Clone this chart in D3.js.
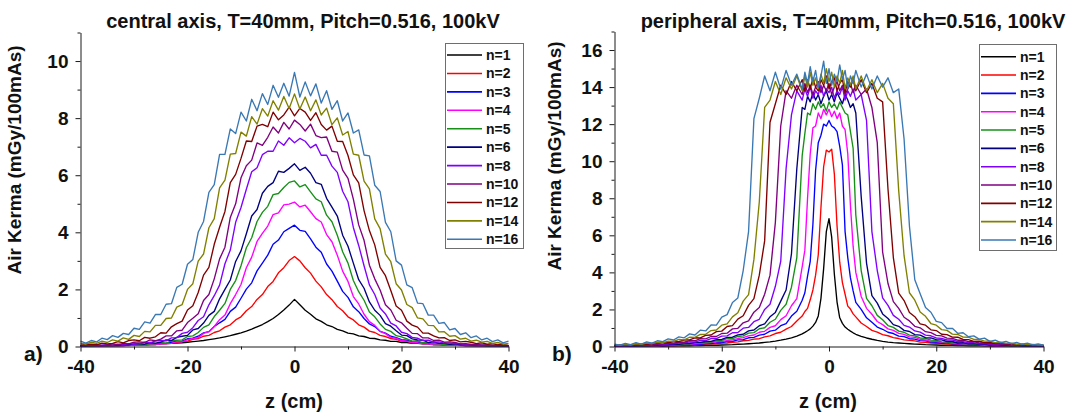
<!DOCTYPE html>
<html>
<head>
<meta charset="utf-8">
<script src="https://cdn.jsdelivr.net/npm/d3@7"></script>
<style>
  body { margin: 0; background: #fff; }
  svg { display: block; font-family: "Liberation Sans", Arial, sans-serif; }
</style>
</head>
<body>
<svg id="chart" width="1081" height="416"></svg>
<script>
// ---- legend entries and line colours ----
const seriesLabels = ["n=1", "n=2", "n=3", "n=4", "n=5", "n=6", "n=8", "n=10", "n=12", "n=14", "n=16"];
const seriesColors = ["#000000", "#ff0000", "#0000ff", "#ff00ff", "#169016", "#000080",
                      "#8000ff", "#800080", "#800000", "#808000", "#3a78b4"];

// ---- axis ticks ----
const zTicks = [-40, -20, 0, 20, 40];
const zMinorTicks = [-30, -10, 10, 30];
const centralYTicks = [0, 2, 4, 6, 8, 10];
const centralYMinor = [1, 3, 5, 7, 9, 11];
const peripheralYTicks = [0, 2, 4, 6, 8, 10, 12, 14, 16];
const peripheralYMinor = [1, 3, 5, 7, 9, 11, 13, 15, 17];

// ---- central axis: z positions (cm) ----
const zCentral = [-40,-39,-38,-37,-36,-35,-34,-33,-32,-31,-30,-29,-28,-27,-26,-25,-24,-23,-22,-21,
  -20,-19,-18,-17,-16,-15,-14,-13,-12,-11,-10,-9,-8,-7,-6,-5,-4,-3,-2,-1,0,
  1,2,3,4,5,6,7,8,9,10,11,12,13,14,15,16,17,18,19,20,21,22,23,24,25,26,27,28,29,30,
  31,32,33,34,35,36,37,38,39,40];

// ---- central axis: air kerma (mGy/100mAs) ----
const central_n1 = [0.015,0.02,0.02,0.02,0.025,0.03,0.03,0.035,0.04,0.045,0.05,0.055,0.06,0.07,0.08,0.09,0.10,0.11,0.12,0.13,0.15,0.17,0.19,0.21,0.24,0.27,0.30,0.34,0.38,0.43,0.48,0.54,0.61,0.69,0.77,0.87,0.98,1.12,1.28,1.45,
  1.65,
  1.46,1.27,1.13,0.97,0.88,0.76,0.70,0.60,0.55,0.47,0.44,0.37,0.35,0.29,0.28,0.23,0.22,0.18,0.18,0.14,0.14,0.11,0.11,0.09,0.09,0.07,0.07,0.05,0.06,0.04,0.05,0.03,0.04,0.03,0.03,0.02,0.03,0.02,0.02,0.01];
const central_n2 = [0.01,0.02,0.01,0.02,0.03,0.02,0.03,0.04,0.03,0.05,0.04,0.06,0.05,0.08,0.07,0.10,0.10,0.14,0.14,0.18,0.19,0.25,0.28,0.36,0.39,0.49,0.55,0.68,0.76,0.93,1.04,1.25,1.40,1.65,1.82,2.10,2.28,2.58,2.76,3.01,
  3.15,
  3.00,2.76,2.57,2.29,2.09,1.82,1.64,1.40,1.25,1.04,0.93,0.76,0.68,0.54,0.49,0.39,0.35,0.28,0.25,0.19,0.18,0.14,0.14,0.10,0.10,0.07,0.08,0.05,0.06,0.04,0.05,0.03,0.04,0.02,0.03,0.02,0.02,0.01,0.02,0.01];
const central_n3 = [0.01,0.02,0.01,0.02,0.03,0.02,0.02,0.04,0.03,0.05,0.04,0.06,0.06,0.08,0.08,0.11,0.11,0.15,0.18,0.19,0.27,0.29,0.36,0.48,0.52,0.70,0.83,0.95,1.23,1.38,1.69,2.01,2.23,2.65,2.92,3.20,3.58,3.73,4.02,4.14,
  4.25,
  4.07,4.03,3.77,3.48,3.30,2.89,2.64,2.29,1.93,1.72,1.39,1.22,0.98,0.79,0.70,0.53,0.47,0.36,0.31,0.24,0.22,0.16,0.15,0.11,0.11,0.08,0.07,0.07,0.05,0.04,0.04,0.03,0.03,0.02,0.03,0.02,0.01,0.02,0.01,0.01];
const central_n4 = [0.02,0.02,0.01,0.03,0.01,0.03,0.02,0.03,0.04,0.03,0.05,0.06,0.04,0.07,0.06,0.09,0.09,0.11,0.17,0.16,0.24,0.28,0.31,0.46,0.52,0.70,0.94,1.10,1.50,1.82,2.17,2.76,3.13,3.68,3.96,4.22,4.62,4.68,4.96,4.99,
  5.06,
  4.89,4.95,4.72,4.48,4.36,3.92,3.67,3.20,2.64,2.28,1.75,1.49,1.13,0.87,0.74,0.53,0.45,0.32,0.29,0.21,0.19,0.14,0.13,0.09,0.09,0.06,0.07,0.05,0.04,0.05,0.03,0.03,0.04,0.02,0.02,0.03,0.01,0.02,0.01,0.01];
const central_n5 = [0.02,0.03,0.01,0.03,0.03,0.02,0.04,0.03,0.05,0.04,0.06,0.07,0.06,0.09,0.09,0.14,0.12,0.20,0.22,0.23,0.35,0.37,0.49,0.67,0.76,1.05,1.27,1.51,2.00,2.31,2.83,3.46,3.81,4.38,4.70,4.91,5.32,5.36,5.57,5.75,
  5.80,
  5.59,5.67,5.42,5.17,5.07,4.60,4.37,3.90,3.32,2.92,2.31,1.92,1.62,1.21,1.04,0.79,0.60,0.53,0.38,0.34,0.27,0.19,0.20,0.13,0.13,0.09,0.09,0.07,0.05,0.06,0.04,0.04,0.03,0.04,0.03,0.02,0.03,0.02,0.01,0.02];
const central_n6 = [0.03,0.02,0.04,0.04,0.03,0.05,0.04,0.04,0.07,0.06,0.09,0.10,0.08,0.14,0.12,0.15,0.23,0.21,0.32,0.36,0.39,0.58,0.63,0.82,1.09,1.23,1.67,2.00,2.33,2.98,3.35,3.95,4.57,4.80,5.37,5.61,5.74,6.14,6.10,6.24,
  6.40,
  6.17,6.28,6.07,5.74,5.68,5.19,4.88,4.57,3.90,3.51,2.92,2.34,2.04,1.56,1.27,1.09,0.80,0.71,0.55,0.40,0.38,0.27,0.23,0.22,0.14,0.16,0.11,0.11,0.08,0.09,0.06,0.07,0.05,0.04,0.05,0.03,0.04,0.03,0.02,0.03];
const central_n8 = [0.02,0.04,0.03,0.03,0.05,0.06,0.04,0.08,0.06,0.10,0.08,0.10,0.15,0.13,0.20,0.21,0.20,0.30,0.31,0.46,0.50,0.66,0.91,1.04,1.46,1.78,2.15,2.90,3.38,4.35,4.87,5.51,6.12,6.26,6.72,6.84,6.84,7.20,7.05,7.31,
  7.14,
  7.29,7.19,6.96,7.08,6.70,6.70,6.32,6.10,5.44,5.07,4.17,3.54,2.83,2.16,1.82,1.35,1.14,0.82,0.72,0.50,0.45,0.32,0.29,0.21,0.22,0.15,0.16,0.12,0.12,0.09,0.09,0.06,0.07,0.05,0.04,0.05,0.03,0.03,0.04,0.02];
const central_n10 = [0.04,0.05,0.03,0.06,0.04,0.05,0.09,0.06,0.11,0.09,0.15,0.16,0.14,0.23,0.20,0.26,0.37,0.37,0.55,0.57,0.84,0.99,1.15,1.61,1.82,2.37,3.07,3.48,4.52,5.00,5.91,6.33,6.53,7.13,7.05,7.33,7.69,7.48,7.85,7.62,
  7.93,
  7.78,7.55,7.79,7.39,7.32,7.34,6.84,6.81,6.18,5.89,5.16,4.26,3.72,2.85,2.37,1.98,1.46,1.28,0.92,0.83,0.64,0.46,0.45,0.30,0.30,0.21,0.22,0.15,0.16,0.14,0.09,0.10,0.07,0.08,0.05,0.06,0.04,0.05,0.03,0.03];
const central_n12 = [0.04,0.08,0.08,0.06,0.12,0.09,0.11,0.17,0.13,0.21,0.23,0.20,0.32,0.29,0.34,0.48,0.47,0.69,0.80,0.89,1.28,1.43,1.89,2.50,2.77,3.58,4.18,4.73,5.74,6.03,6.59,7.20,7.18,7.72,7.78,7.70,8.21,7.94,8.11,8.39,
  8.08,
  8.34,8.21,7.92,8.19,7.78,7.58,7.72,7.19,7.18,6.69,6.01,5.73,4.76,4.06,3.56,2.77,2.48,1.96,1.42,1.27,0.89,0.75,0.68,0.47,0.47,0.37,0.30,0.31,0.21,0.23,0.16,0.18,0.15,0.10,0.13,0.08,0.10,0.06,0.07,0.04];
const central_n14 = [0.12,0.08,0.15,0.11,0.19,0.14,0.23,0.19,0.30,0.25,0.39,0.35,0.53,0.51,0.74,0.74,0.98,1.00,1.38,1.47,2.00,2.20,2.99,3.24,4.16,4.48,5.56,5.83,6.74,6.76,7.51,7.37,8.05,7.79,8.33,8.07,8.61,8.28,8.76,8.34,
  8.85,
  8.32,8.74,8.26,8.64,8.11,8.35,7.77,8.01,7.41,7.53,6.74,6.70,5.79,5.52,4.47,4.13,3.24,2.97,2.20,1.98,1.47,1.36,1.00,0.97,0.74,0.73,0.51,0.52,0.36,0.38,0.26,0.29,0.19,0.22,0.15,0.18,0.11,0.14,0.08,0.11];
const central_n16 = [0.19,0.12,0.21,0.16,0.29,0.24,0.38,0.32,0.46,0.42,0.64,0.60,0.86,0.82,1.12,1.12,1.48,1.50,2.07,2.18,2.88,3.05,4.00,4.38,5.40,5.67,6.73,6.73,7.62,7.46,8.21,7.90,8.66,8.26,8.86,8.48,9.15,8.73,9.22,8.77,
  9.60,
  8.74,9.27,8.78,9.20,8.53,8.96,8.31,8.61,7.90,8.18,7.48,7.59,6.71,6.68,5.65,5.43,4.35,4.02,3.00,2.85,2.16,2.06,1.52,1.50,1.10,1.10,0.81,0.84,0.58,0.63,0.42,0.48,0.31,0.37,0.23,0.29,0.17,0.23,0.13,0.19];

// ---- peripheral axis: z positions (cm), finer near the centre ----
const zPeripheral = [-40,-39,-38,-37,-36,-35,-34,-33,-32,-31,-30,-29,-28,-27,-26,-25,-24,-23,-22,-21,
  -20,-19,-18,-17,-16,-15,-14,-13,-12,-11,-10,-9,-8,-7,-6,-5,
  -4.5,-4,-3.5,-3,-2.5,-2,-1.5,-1,-0.5,0,0.5,1,1.5,2,2.5,3,3.5,4,4.5,
  5,6,7,8,9,10,11,12,13,14,15,16,17,18,19,20,21,22,23,24,25,26,27,28,29,30,
  31,32,33,34,35,36,37,38,39,40];

// ---- peripheral axis: air kerma (mGy/100mAs) ----
const peripheral_n1 = [0.01,0.01,0.01,0.01,0.01,0.015,0.015,0.02,0.02,0.02,0.03,0.03,0.03,0.04,0.04,0.05,0.05,0.06,0.07,0.07,0.08,0.09,0.10,0.12,0.13,0.15,0.17,0.19,0.22,0.25,0.29,0.34,0.40,0.47,0.56,0.68,
  0.76,0.85,0.95,1.10,1.30,1.65,2.60,4.20,6.20,6.90,5.90,3.90,2.40,1.55,1.25,1.05,0.93,0.83,0.74,
  0.66,0.55,0.46,0.39,0.33,0.28,0.24,0.21,0.19,0.17,0.15,0.13,0.12,0.10,0.09,0.08,0.07,0.07,0.06,0.05,0.05,0.04,0.04,0.03,0.03,0.03,0.02,0.02,0.02,0.015,0.015,0.01,0.01,0.01,0.01,0.01];
const peripheral_n2 = [0.01,0.01,0.02,0.01,0.02,0.02,0.02,0.03,0.02,0.03,0.04,0.03,0.05,0.05,0.08,0.08,0.10,0.12,0.14,0.15,0.18,0.19,0.23,0.25,0.31,0.33,0.40,0.42,0.52,0.57,0.70,0.77,0.94,1.08,1.38,1.64,
  1.89,2.06,2.52,3.05,3.85,4.95,7.50,9.70,10.60,10.50,10.65,9.30,6.50,4.55,3.45,2.82,2.18,2.02,1.76,
  1.60,1.27,1.08,0.87,0.78,0.64,0.58,0.48,0.43,0.36,0.33,0.30,0.24,0.22,0.19,0.17,0.16,0.13,0.12,0.11,0.09,0.08,0.07,0.06,0.05,0.04,0.04,0.03,0.03,0.03,0.02,0.02,0.02,0.01,0.01,0.01];
const peripheral_n3 = [0.01,0.02,0.01,0.02,0.02,0.03,0.02,0.03,0.03,0.04,0.05,0.05,0.06,0.09,0.09,0.12,0.12,0.16,0.16,0.20,0.21,0.27,0.28,0.36,0.37,0.47,0.49,0.61,0.66,0.83,0.88,1.12,1.24,1.64,1.90,2.50,
  2.90,3.80,4.60,6.60,9.50,11.00,11.40,12.00,11.90,12.20,11.90,11.80,11.60,10.80,9.80,6.20,4.80,3.70,3.00,
  2.38,2.00,1.55,1.31,1.05,0.93,0.77,0.70,0.56,0.53,0.42,0.40,0.32,0.30,0.24,0.23,0.18,0.18,0.14,0.14,0.10,0.11,0.07,0.08,0.05,0.05,0.04,0.04,0.03,0.03,0.02,0.03,0.02,0.02,0.01,0.01];
const peripheral_n4 = [0.02,0.03,0.02,0.03,0.03,0.04,0.03,0.05,0.04,0.06,0.06,0.09,0.09,0.12,0.12,0.15,0.16,0.19,0.21,0.25,0.27,0.32,0.36,0.43,0.48,0.57,0.62,0.77,0.82,1.03,1.12,1.45,1.66,2.20,2.58,4.30,
  5.20,8.00,10.40,11.80,11.90,12.60,12.30,12.80,12.50,12.80,12.40,12.70,12.30,12.60,11.90,11.70,10.40,7.60,5.40,
  4.00,2.70,2.06,1.74,1.35,1.18,0.95,0.87,0.71,0.65,0.52,0.49,0.38,0.36,0.28,0.27,0.22,0.21,0.17,0.16,0.13,0.13,0.10,0.10,0.07,0.07,0.04,0.05,0.03,0.04,0.02,0.03,0.02,0.02,0.01,0.02];
const peripheral_n5 = [0.02,0.03,0.02,0.04,0.03,0.05,0.04,0.06,0.05,0.07,0.07,0.11,0.10,0.13,0.13,0.19,0.19,0.24,0.24,0.31,0.33,0.42,0.42,0.54,0.57,0.72,0.75,0.96,1.01,1.31,1.47,1.95,2.28,3.20,4.80,10.30,
  11.50,12.60,12.50,13.10,12.80,13.20,12.90,13.10,12.70,13.20,12.90,13.10,12.80,13.20,12.90,12.60,12.50,11.60,10.70,
  7.10,4.10,2.60,2.20,1.68,1.44,1.13,1.03,0.83,0.77,0.61,0.57,0.46,0.44,0.34,0.33,0.25,0.24,0.20,0.19,0.15,0.15,0.12,0.12,0.09,0.09,0.06,0.06,0.04,0.05,0.03,0.04,0.03,0.03,0.02,0.02];
const peripheral_n6 = [0.03,0.04,0.03,0.05,0.04,0.06,0.05,0.07,0.07,0.09,0.09,0.12,0.12,0.16,0.16,0.22,0.22,0.27,0.28,0.37,0.38,0.49,0.50,0.63,0.66,0.84,0.89,1.12,1.22,1.60,1.84,2.45,3.05,5.00,9.60,12.90,
  12.80,13.50,13.20,13.70,13.30,13.60,13.10,13.50,13.80,13.30,13.60,13.20,13.70,13.40,13.10,13.60,13.30,12.90,13.10,
  12.60,8.10,4.50,2.74,2.34,1.76,1.51,1.18,1.09,0.87,0.81,0.64,0.61,0.48,0.46,0.37,0.36,0.27,0.27,0.19,0.21,0.15,0.16,0.12,0.12,0.08,0.10,0.07,0.08,0.05,0.06,0.04,0.05,0.03,0.04,0.02];
const peripheral_n8 = [0.04,0.03,0.05,0.04,0.06,0.05,0.09,0.07,0.11,0.10,0.15,0.14,0.19,0.18,0.25,0.24,0.33,0.32,0.43,0.43,0.56,0.57,0.74,0.75,0.99,1.03,1.34,1.47,2.00,2.28,3.25,4.60,9.60,12.50,13.80,13.30,
  13.90,13.50,14.00,13.40,13.80,13.60,14.10,13.50,13.90,13.70,14.00,13.40,13.80,13.60,14.00,13.30,13.80,13.50,13.90,
  13.30,13.60,12.20,6.20,4.10,2.62,2.22,1.68,1.47,1.14,1.05,0.84,0.78,0.61,0.58,0.46,0.44,0.35,0.35,0.27,0.26,0.20,0.20,0.15,0.16,0.12,0.13,0.10,0.11,0.07,0.09,0.06,0.07,0.05,0.06,0.04];
const peripheral_n10 = [0.05,0.04,0.07,0.05,0.08,0.07,0.11,0.10,0.15,0.13,0.19,0.18,0.24,0.23,0.32,0.31,0.42,0.41,0.54,0.54,0.70,0.72,0.95,0.98,1.28,1.38,1.85,2.10,2.82,3.85,6.70,11.90,13.80,13.40,14.10,13.60,
  14.20,13.70,14.10,13.60,14.00,14.30,13.70,14.10,13.80,14.20,13.60,14.00,14.30,13.80,14.10,13.60,13.90,14.20,13.70,
  14.10,13.60,13.90,12.90,11.00,5.10,3.40,2.42,2.06,1.58,1.38,1.09,1.01,0.80,0.75,0.60,0.57,0.45,0.44,0.34,0.34,0.26,0.26,0.19,0.20,0.15,0.16,0.12,0.12,0.09,0.10,0.07,0.08,0.05,0.07,0.04];
const peripheral_n12 = [0.05,0.08,0.07,0.10,0.09,0.13,0.12,0.17,0.16,0.22,0.20,0.27,0.26,0.35,0.36,0.47,0.46,0.60,0.62,0.80,0.83,1.08,1.13,1.48,1.66,2.22,2.58,3.85,5.70,12.10,13.10,14.10,13.60,14.30,13.80,14.40,
  13.80,14.40,13.90,14.50,14.00,13.80,14.40,14.10,14.60,13.90,14.30,14.50,13.80,14.20,14.40,13.70,14.30,14.00,14.40,
  13.80,14.40,13.70,14.20,13.40,13.20,8.50,4.80,2.88,2.48,1.84,1.61,1.22,1.15,0.90,0.86,0.66,0.64,0.51,0.50,0.38,0.37,0.28,0.29,0.21,0.23,0.16,0.18,0.14,0.14,0.10,0.11,0.08,0.09,0.06,0.07];
const peripheral_n14 = [0.09,0.06,0.11,0.08,0.15,0.12,0.19,0.15,0.23,0.20,0.29,0.27,0.38,0.36,0.50,0.49,0.65,0.66,0.86,0.89,1.15,1.22,1.60,1.82,2.45,2.80,4.70,7.80,12.90,13.30,14.30,13.60,14.50,13.90,14.60,13.80,
  14.60,14.00,14.80,14.10,14.50,13.90,14.70,14.20,15.00,14.30,14.80,14.00,14.60,14.20,14.90,13.90,14.50,14.10,14.60,
  13.90,14.60,13.80,14.40,13.70,14.20,13.40,13.10,8.40,4.90,2.90,2.50,1.86,1.63,1.24,1.15,0.91,0.87,0.67,0.65,0.51,0.50,0.38,0.38,0.29,0.29,0.21,0.23,0.17,0.18,0.12,0.14,0.10,0.11,0.08,0.08];
const peripheral_n16 = [0.13,0.07,0.17,0.10,0.21,0.13,0.25,0.18,0.31,0.26,0.41,0.35,0.52,0.47,0.68,0.62,0.88,0.84,1.16,1.15,1.58,1.72,2.38,2.62,4.10,6.20,12.30,13.40,14.60,13.80,14.80,13.90,14.90,14.10,14.70,13.90,
  14.80,14.20,15.10,14.30,14.90,14.00,14.60,15.40,14.20,15.00,14.10,14.70,14.30,15.20,14.40,14.90,13.90,14.60,14.20,
  14.90,14.00,14.70,13.90,14.60,14.00,14.50,13.70,13.90,11.20,6.50,3.60,2.85,2.10,1.85,1.36,1.29,0.97,0.98,0.71,0.74,0.53,0.57,0.40,0.45,0.28,0.34,0.21,0.27,0.15,0.22,0.12,0.18,0.09,0.14,0.07];

const centralSeries = [central_n1, central_n2, central_n3, central_n4, central_n5, central_n6,
                       central_n8, central_n10, central_n12, central_n14, central_n16];
const peripheralSeries = [peripheral_n1, peripheral_n2, peripheral_n3, peripheral_n4, peripheral_n5, peripheral_n6,
                          peripheral_n8, peripheral_n10, peripheral_n12, peripheral_n14, peripheral_n16];

const svg = d3.select("#chart");
svg.append("rect").attr("width", 1081).attr("height", 416).attr("fill", "#fff");

const AXIS_COLOR = "#1a1a1a";
const BASE_Y = 346.5;

function drawPanel(p) {
  const g = svg.append("g");
  const x = d3.scaleLinear().domain([-40, 40]).range(p.xRange);
  const y = d3.scaleLinear().domain([0, p.yMax]).range([BASE_Y, p.yTop]);

  // dose profiles, lowest rotation count first
  const line = d3.line()
    .defined((d, i) => i < p.z.length)
    .x((d, i) => x(p.z[i]))
    .y(d => y(d));
  p.series.forEach((vals, k) => {
    g.append("path")
      .attr("d", line(vals))
      .attr("fill", "none")
      .attr("stroke", seriesColors[k])
      .attr("stroke-width", 1.35)
      .attr("stroke-linejoin", "round");
  });

  // x axis
  const gx = g.append("g").attr("transform", `translate(0,${BASE_Y})`);
  gx.call(d3.axisBottom(x).tickValues(zTicks).tickSize(5).tickSizeOuter(0)
    .tickPadding(8.5).tickFormat(d => String(d)));
  gx.append("g").call(d3.axisBottom(x).tickValues(zMinorTicks).tickSize(3).tickFormat(() => ""))
    .select(".domain").remove();

  // y axis
  const gy = g.append("g").attr("transform", `translate(${p.xRange[0]},0)`);
  gy.call(d3.axisLeft(y).tickValues(p.yTicks).tickSize(5).tickSizeOuter(0)
    .tickPadding(7).tickFormat(d => String(d)));
  gy.append("g").call(d3.axisLeft(y).tickValues(p.yMinor).tickSize(3).tickFormat(() => ""))
    .select(".domain").remove();

  [gx, gy].forEach(a => {
    a.selectAll("path, line").attr("stroke", AXIS_COLOR).attr("stroke-width", 1);
    a.selectAll("text")
      .attr("font-family", "'Liberation Sans', Arial, sans-serif")
      .attr("font-size", 19).attr("font-weight", "bold").attr("fill", "#111");
  });
  gx.attr("font-family", null).attr("font-size", null);
  gy.attr("font-family", null).attr("font-size", null);

  // titles and labels
  g.append("text").attr("x", p.titleX).attr("y", 27.5).attr("text-anchor", "middle")
    .attr("font-size", 20).attr("font-weight", "bold").attr("fill", "#111").text(p.title);
  g.append("text").attr("x", p.xLabelX).attr("y", 407.5).attr("text-anchor", "middle")
    .attr("font-size", 20).attr("font-weight", "bold").attr("fill", "#111").text("z (cm)");
  g.append("text").attr("transform", `translate(${p.yLabelX},${p.yLabelY}) rotate(-90)`)
    .attr("text-anchor", "middle")
    .attr("font-size", 19).attr("font-weight", "bold").attr("fill", "#111")
    .text("Air Kerma (mGy/100mAs)");
  g.append("text").attr("x", p.tagX).attr("y", 361).attr("font-size", 21)
    .attr("font-weight", "bold").attr("fill", "#111").text(p.tag);

  // legend
  const lg = g.append("g");
  const L = p.legend;
  lg.append("rect").attr("x", L.x).attr("y", L.y).attr("width", L.w).attr("height", L.h)
    .attr("fill", "#fff").attr("stroke", "#6e6e6e").attr("stroke-width", 1);
  seriesLabels.forEach((lab, i) => {
    const yy = L.first + i * L.step;
    lg.append("line").attr("x1", L.lx1).attr("x2", L.lx2).attr("y1", yy).attr("y2", yy)
      .attr("stroke", seriesColors[i]).attr("stroke-width", 1.6);
    lg.append("text").attr("x", L.tx).attr("y", yy).attr("dy", "0.36em")
      .attr("font-size", 14).attr("font-weight", "bold").attr("fill", "#111").text(lab);
  });
}

drawPanel({
  z: zCentral, series: centralSeries,
  xRange: [80.5, 508.5], yMax: 11, yTop: 32.5,
  yTicks: centralYTicks, yMinor: centralYMinor,
  title: "central axis, T=40mm, Pitch=0.516, 100kV", titleX: 303,
  xLabelX: 294, yLabelX: 21, yLabelY: 160, tag: "a)", tagX: 24,
  legend: { x: 445.5, y: 43.5, w: 78, h: 205, first: 55, step: 18.43, lx1: 447, lx2: 482, tx: 486 }
});

drawPanel({
  z: zPeripheral, series: peripheralSeries,
  xRange: [614.5, 1043.5], yMax: 17, yTop: 31.5,
  yTicks: peripheralYTicks, yMinor: peripheralYMinor,
  title: "peripheral axis, T=40mm, Pitch=0.516, 100kV", titleX: 853,
  xLabelX: 828, yLabelX: 561, yLabelY: 156, tag: "b)", tagX: 552,
  legend: { x: 979.5, y: 44.5, w: 77, h: 206, first: 56.7, step: 18.33, lx1: 981, lx2: 1016, tx: 1020 }
});
</script>
</body>
</html>
